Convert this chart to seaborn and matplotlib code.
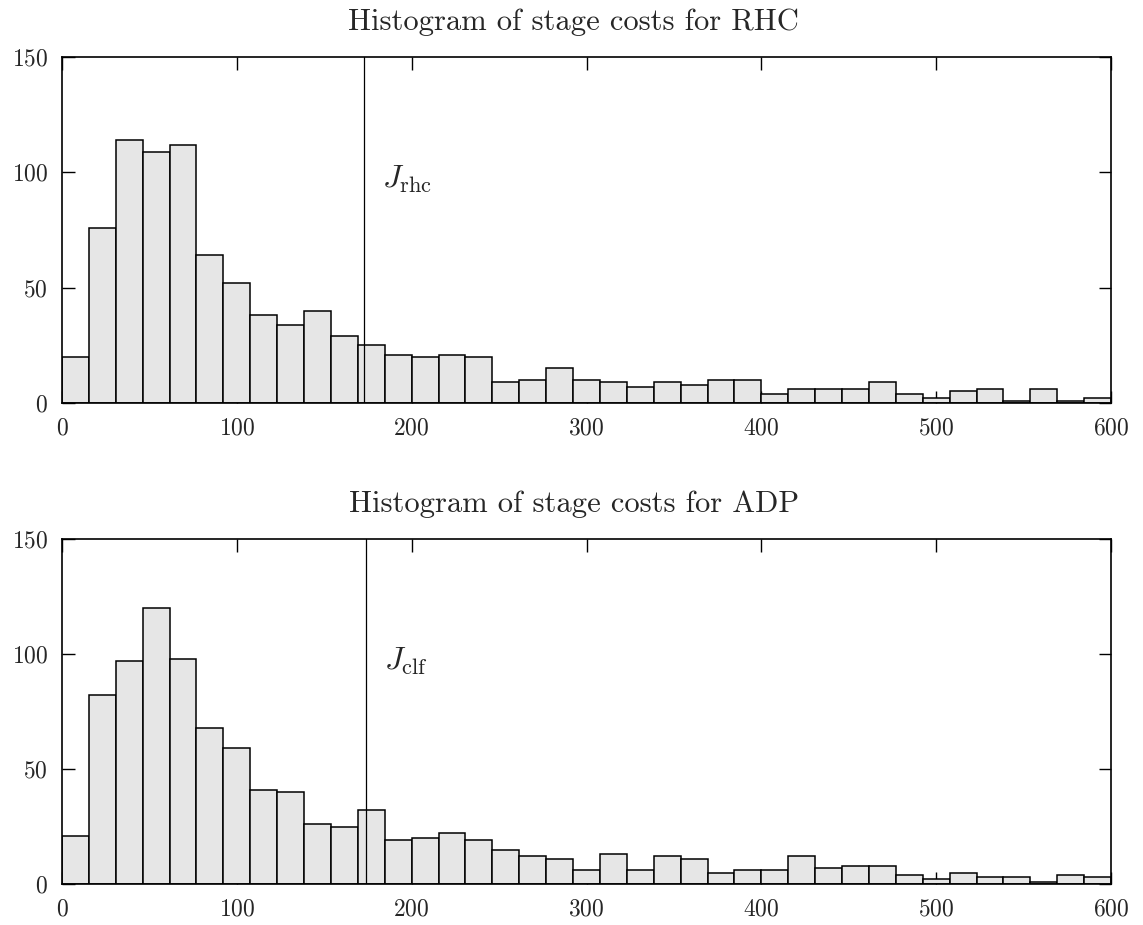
import numpy as np
import pandas as pd
import matplotlib
matplotlib.use("Agg")
import matplotlib.pyplot as plt
import seaborn as sns

# Stage-cost histogram counts: 39 equal-width bins covering [0, 600]
bin_edges = np.linspace(0, 600, 40)
rhc_counts = [20, 76, 114, 109, 112, 64, 52, 38, 34, 40,
              29, 25, 21, 20, 21, 20, 9, 10, 15, 10,
              9, 7, 9, 8, 10, 10, 4, 6, 6, 6,
              9, 4, 2, 5, 6, 1, 6, 1, 2]
adp_counts = [21, 82, 97, 120, 98, 68, 59, 41, 40, 26,
              25, 32, 19, 20, 22, 19, 15, 12, 11, 6,
              13, 6, 12, 11, 5, 6, 6, 12, 7, 8,
              8, 4, 2, 5, 3, 3, 1, 4, 3]

# Average stage cost of each policy
rhc_mean = 173.0
adp_mean = 174.0

titles = ["Histogram of stage costs for RHC", "Histogram of stage costs for ADP"]
mean_labels = [r"$J_{\rm rhc}$", r"$J_{\rm clf}$"]
x_ticks = [0, 100, 200, 300, 400, 500, 600]
y_ticks = [0, 50, 100, 150]

sns.set_theme(style="ticks")
plt.rcParams.update({
    "font.family": "cmr10",
    "mathtext.fontset": "cm",
    "axes.formatter.use_mathtext": True,
    "axes.unicode_minus": False,
})

W, H = 1143, 925
fig = plt.figure(figsize=(W / 100, H / 100), dpi=100)
ax_top = fig.add_axes([62 / W, (H - 403) / H, 1049 / W, 346 / H])
ax_bot = fig.add_axes([62 / W, (H - 884) / H, 1049 / W, 345 / H])

centers = (bin_edges[:-1] + bin_edges[1:]) / 2

panels = [
    (ax_top, rhc_counts, rhc_mean, titles[0], mean_labels[0]),
    (ax_bot, adp_counts, adp_mean, titles[1], mean_labels[1]),
]

for ax, counts, mean, title, label in panels:
    df = pd.DataFrame({"cost": centers, "count": counts})
    sns.histplot(data=df, x="cost", weights="count", bins=list(bin_edges), ax=ax,
                 color="#e6e6e6", edgecolor="black", linewidth=1.1, alpha=1.0)
    ax.axvline(mean, color="black", linewidth=0.9)
    ax.text(mean + 10, 97, label, fontsize=23, ha="left", va="center")

    ax.set_xlim(0, 600)
    ax.set_ylim(0, 150)
    ax.set_xticks(x_ticks)
    ax.set_yticks(y_ticks)
    ax.set_xlabel("")
    ax.set_ylabel("")
    ax.tick_params(direction="in", top=True, right=True, length=9,
                   width=1.0, labelsize=17, color="black")
    ax.tick_params(axis="x", pad=10)
    ax.tick_params(axis="y", pad=10)
    for spine in ax.spines.values():
        spine.set_visible(True)
        spine.set_linewidth(1.2)
        spine.set_color("black")
    ax.set_title(title, fontsize=22, pad=19.5, x=0.488)

fig.savefig("out.png", dpi=100, facecolor="white")
